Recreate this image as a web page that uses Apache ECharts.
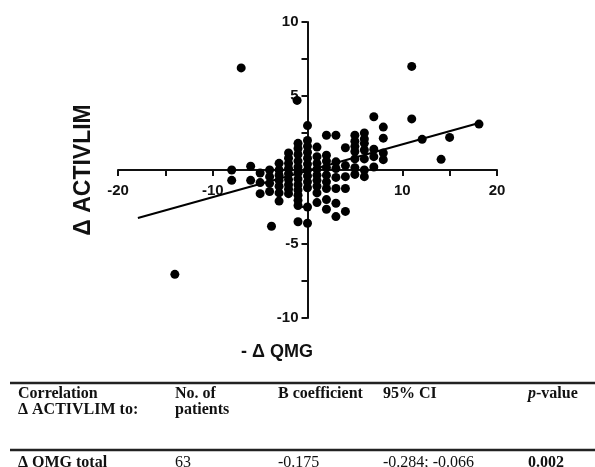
<!DOCTYPE html>
<html>
<head>
<meta charset="utf-8">
<script src="https://cdn.jsdelivr.net/npm/echarts@6/dist/echarts.min.js"></script>
<style>
html,body{margin:0;padding:0;background:#fff;}
#chart{width:595px;height:467px;}
</style>
</head>
<body>
<div id="chart"></div>
<script>
// ---- data ----
const pointsX = [
  -14, -7, -1.1, 11, 11, 18.1, 12.1, 15, 14.1,
  -8, -8,
  -6, -6,
  -5, -5, -5,
  -4, -4, -4, -4, -3.8,
  -3, -3, -3, -3, -3, -3, -3,
  -2, -2, -2, -2, -2, -2, -2, -2, -2,
  -1, -1, -1, -1, -1, -1, -1, -1, -1, -1, -1, -1, -1,
  0, 0, 0, 0, 0, 0, 0, 0, 0, 0, 0, 0,
  1, 1, 1, 1, 1, 1, 1, 1, 1,
  2, 2, 2, 2, 2, 2, 2, 2, 2,
  3, 3, 3, 3, 3, 3, 3,
  4, 4, 4, 4, 4,
  5, 5, 5, 5, 5, 5, 5,
  6, 6, 6, 6, 6, 6, 6,
  7, 7, 7, 7,
  8, 8, 8, 8
];
const pointsY = [
  -7.05, 6.9, 4.7, 7, 3.45, 3.1, 2.07, 2.2, 0.72,
  0, -0.7,
  0.25, -0.7,
  -0.2, -0.85, -1.6,
  0, -0.45, -0.9, -1.45, -3.8,
  0.45, 0, -0.35, -0.7, -1.1, -1.55, -2.1,
  1.15, 0.8, 0.45, 0.1, -0.25, -0.65, -1.0, -1.3, -1.6,
  1.8, 1.45, 1.05, 0.6, 0.2, -0.2, -0.6, -1.0, -1.35, -1.7, -2.05, -2.4, -3.5,
  3.0, 2.0, 1.6, 1.2, 0.8, 0.4, 0, -0.4, -0.8, -1.2, -2.5, -3.6,
  1.55, 0.9, 0.45, 0.05, -0.35, -0.7, -1.1, -1.55, -2.2,
  2.35, 1.0, 0.6, 0.15, -0.35, -0.8, -1.25, -2.0, -2.65,
  2.35, 0.55, 0.1, -0.5, -1.25, -2.25, -3.15,
  1.5, 0.3, -0.45, -1.25, -2.8,
  2.35, 1.95, 1.6, 1.25, 0.75, 0.15, -0.3,
  2.5, 2.1, 1.8, 1.35, 0.75, 0, -0.45,
  3.6, 1.4, 0.9, 0.2,
  2.9, 2.15, 1.15, 0.7
];
const regressionX = [-17.9, 18.1];
const regressionY = [-3.24, 3.17];
const xTickLabels = [-20, -10, 10, 20];
const yTickLabels = [-10, -5, 5, 10];
const xAxisTitle = '- \u0394 QMG';
const yAxisTitle = '\u0394 ACTIVLIM';
const tableHeader1 = ['Correlation', 'No. of', 'B coefficient', '95% CI', '{i|p}{b|-value}'];
const tableHeader2 = ['\u0394 ACTIVLIM to:', 'patients', '', '', ''];
const tableRow = ['\u0394 QMG total', '63', '-0.175', '-0.284; -0.066', '0.002'];
const tableRowBold = [true, false, false, false, true];

// ---- layout ----
const W = 595, H = 467;
const G = {left: 118, right: 98, top: 22, bottom: 149};
const X_MIN = -20, X_MAX = 20, Y_MIN = -10, Y_MAX = 10;
const gridW = W - G.left - G.right, gridH = H - G.top - G.bottom;
// shift the axes so they cross at the origin (labels move with them)
const xAxisOffset = -gridH * (0 - Y_MIN) / (Y_MAX - Y_MIN);
const yAxisOffset = -gridW * (0 - X_MIN) / (X_MAX - X_MIN);

const chart = echarts.init(document.getElementById('chart'), null, {renderer: 'canvas'});
const scatterData = pointsX.map((x, i) => [x, pointsY[i]]);
const lineData = regressionX.map((x, i) => [x, regressionY[i]]);

const sans = '"Liberation Sans", Arial, sans-serif';
const serif = '"Liberation Serif", "Times New Roman", serif';
const colX = [18, 175, 278, 383, 528];
const graphics = [];

graphics.push({
  type: 'text', x: 84, y: 170, rotation: Math.PI / 2,
  style: {text: yAxisTitle, font: 'bold 23px ' + sans, fill: '#111',
          textAlign: 'center', textVerticalAlign: 'middle'}
});
graphics.push({
  type: 'text', x: 277, y: 352,
  style: {text: xAxisTitle, font: 'bold 18px ' + sans, fill: '#111',
          textAlign: 'center', textVerticalAlign: 'middle'}
});
graphics.push({type: 'line', shape: {x1: 10, y1: 383, x2: 595, y2: 383},
  style: {stroke: '#222', lineWidth: 2.5}});
graphics.push({type: 'line', shape: {x1: 10, y1: 450, x2: 595, y2: 450},
  style: {stroke: '#222', lineWidth: 2.5}});

tableHeader1.forEach((t, i) => {
  graphics.push({type: 'text', x: colX[i], y: 394,
    style: {text: t, font: 'bold 16px ' + serif, fill: '#111',
      textAlign: 'left', textVerticalAlign: 'middle',
      rich: {i: {fontStyle: 'italic', fontWeight: 'bold', fontSize: 16, fontFamily: serif, fill: '#111'},
             b: {fontWeight: 'bold', fontSize: 16, fontFamily: serif, fill: '#111'}}}});
});
tableHeader2.forEach((t, i) => {
  if (!t) return;
  graphics.push({type: 'text', x: colX[i], y: 410,
    style: {text: t, font: 'bold 16px ' + serif, fill: '#111',
      textAlign: 'left', textVerticalAlign: 'middle'}});
});
tableRow.forEach((t, i) => {
  graphics.push({type: 'text', x: colX[i], y: 463,
    style: {text: t, font: (tableRowBold[i] ? 'bold ' : '') + '16px ' + serif, fill: '#111',
      textAlign: 'left', textVerticalAlign: 'middle'}});
});

const option = {
  backgroundColor: '#fff',
  animation: false,
  grid: {left: G.left, right: G.right, top: G.top, bottom: G.bottom, containLabel: false},
  xAxis: {
    type: 'value', min: X_MIN, max: X_MAX, interval: 5, position: 'bottom',
    offset: xAxisOffset,
    axisLine: {onZero: false, lineStyle: {color: '#111', width: 2}},
    axisTick: {show: true, length: 6, lineStyle: {color: '#111', width: 2}},
    axisLabel: {
      formatter: v => xTickLabels.includes(v) ? String(v) : '',
      color: '#111', fontFamily: sans, fontWeight: 'bold', fontSize: 15, margin: 13,
      showMinLabel: true, showMaxLabel: true
    },
    splitLine: {show: false}
  },
  yAxis: {
    type: 'value', min: Y_MIN, max: Y_MAX, interval: 2.5, position: 'left',
    offset: yAxisOffset,
    axisLine: {onZero: false, lineStyle: {color: '#111', width: 2}},
    axisTick: {show: true, length: 6, lineStyle: {color: '#111', width: 2}},
    axisLabel: {
      formatter: v => yTickLabels.includes(v) ? String(v) : '',
      color: '#111', fontFamily: sans, fontWeight: 'bold', fontSize: 15, margin: 9,
      showMinLabel: true, showMaxLabel: true
    },
    splitLine: {show: false}
  },
  series: [
    {type: 'scatter', data: scatterData, symbol: 'circle', symbolSize: 9,
     itemStyle: {color: '#000', opacity: 1}, z: 3},
    {type: 'line', data: lineData, symbol: 'none', showSymbol: false,
     lineStyle: {color: '#000', width: 2}, z: 4}
  ],
  graphic: graphics
};
chart.setOption(option);
</script>
</body>
</html>
